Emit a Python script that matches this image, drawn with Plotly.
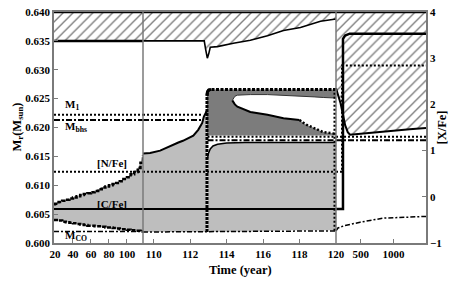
import plotly.graph_objects as go

# ---------------- axes ----------------
seg1_range = [18.9, 117.8]      # years, first (slow) part
seg2_range = [109.41, 120.0]    # years, zoomed part
seg3_range = [120.0, 1500.0]    # years, late part
mass_range = [0.600, 0.640]
xfe_range = [-1, 4]

seg1_ticks = [20, 40, 60, 80, 100]
seg2_ticks = [110, 112, 114, 116, 118, 120]
seg3_ticks = [500, 1000]
mass_ticks = [0.600, 0.605, 0.610, 0.615, 0.620, 0.625, 0.630, 0.635, 0.640]
xfe_ticks = [-1, 0, 1, 2, 3, 4]

M_TOTAL = 0.640

# ---------------- segment 1 ----------------
env1_t = [18.9, 117.8]
env1_m = [0.635, 0.635]

g1_t = [18.9, 20, 24, 28, 32, 36, 40, 44, 48, 52, 56, 60, 64, 68, 72, 76, 80, 84, 88, 92, 96,
        100, 104, 108, 112, 115, 117.8]
g1_top = [0.6067, 0.6068, 0.6071, 0.6073, 0.6075, 0.6077, 0.6079, 0.6081, 0.6083, 0.6085, 0.6086,
          0.6088, 0.6090, 0.6093, 0.6096, 0.6098, 0.6100, 0.6102, 0.6104, 0.6107, 0.6111,
          0.6114, 0.6119, 0.6123, 0.6130, 0.6139, 0.6152]
g1_bot = [0.6040, 0.6040, 0.6039, 0.6037, 0.6036, 0.6035, 0.6034, 0.6033, 0.6032, 0.6031, 0.6030,
          0.6030, 0.6029, 0.6029, 0.6028, 0.6027, 0.6027, 0.6026, 0.6025, 0.6024, 0.6024,
          0.6023, 0.6022, 0.6021, 0.6021, 0.6020, 0.6020]

# ---------------- segment 2 ----------------
env2_t = [109.41, 112.77, 112.85, 112.94, 113.02, 113.10, 113.49, 114.37, 115.30, 116.24,
          117.12, 118.05, 119.15, 120.0]
env2_m = [0.6350, 0.6350, 0.6335, 0.6320, 0.6328, 0.6339, 0.6340, 0.6346, 0.6351, 0.6359,
          0.6368, 0.6373, 0.6384, 0.6388]

g2a_t = [109.41, 109.8, 110.35, 110.7, 111.06, 111.35, 111.6, 111.9, 112.17, 112.44, 112.66,
         112.75, 112.9]
g2a_top = [0.6155, 0.6156, 0.6160, 0.6165, 0.6171, 0.6174, 0.6177, 0.6181, 0.6186, 0.6196,
           0.6208, 0.6219, 0.6228]
g2a_bot = [0.6019] * 13

g2b_t = [112.95, 113.0, 113.1, 113.25, 113.5, 114, 115, 116, 117, 118, 119, 120]
g2b_top = [0.6146, 0.6155, 0.6163, 0.6168, 0.6171, 0.6173, 0.6174, 0.6174, 0.6174, 0.6174,
           0.6174, 0.6174]
g2b_bot = [0.6019, 0.6019, 0.6019, 0.6019, 0.6019, 0.6019, 0.6020, 0.6020, 0.6022, 0.6022,
           0.6022, 0.6022]

dk_t = [112.92, 112.95, 113.02, 113.15, 114, 116, 118, 120]
dk_top = [0.6255, 0.6262, 0.6265, 0.6266, 0.6266, 0.6266, 0.6266, 0.6266]
dk_bot = [0.6186] * 8

wt_t = [114.31, 114.45, 114.59, 115.0, 115.3, 116.24, 117.12, 118.0, 118.3, 118.8, 119.3, 120]
wt_top = [0.6247, 0.6254, 0.6256, 0.6257, 0.6257, 0.6257, 0.6256, 0.6255, 0.6254, 0.6253,
          0.6252, 0.6251]
wt_bot = [0.6247, 0.6240, 0.6236, 0.6230, 0.6227, 0.6222, 0.6216, 0.6213, 0.6206, 0.6199,
          0.6192, 0.6189]

spike_t = [112.92, 112.92]
spike_m = [0.6019, 0.6255]
edge_t = [119.93, 119.93]
edge_m = [0.6021, 0.6266]

# ---------------- segment 3 ----------------
env3_t = [120, 150, 190, 227, 260, 300, 335, 500, 750, 1000, 1250, 1500]
env3_m = [0.6268, 0.6258, 0.6242, 0.6222, 0.6204, 0.6192, 0.61875, 0.6189, 0.6192, 0.6195,
          0.6197, 0.6199]

mco3_t = [120, 150, 250, 490, 840, 1500]
mco3_m = [0.6021, 0.6026, 0.6030, 0.6036, 0.6043, 0.6046]

# ---------------- characteristic masses ----------------
m1_t1, m1_v1 = [18.9, 117.8], [0.6222, 0.6222]
m1_t2a, m1_v2a = [109.41, 112.7], [0.6222, 0.6222]
m1_t2b, m1_v2b = [112.95, 120], [0.6184, 0.6184]
m1_t3, m1_v3 = [120, 1500], [0.6184, 0.6184]

mb_t1, mb_v1 = [18.9, 117.8], [0.6213, 0.6213]
mb_t2a, mb_v2a = [109.41, 112.6], [0.6213, 0.6213]
mb_t2b, mb_v2b = [112.95, 120], [0.6178, 0.6178]
mb_t3, mb_v3 = [120, 1500], [0.6178, 0.6178]

mco_t1, mco_v1 = [18.9, 117.8], [0.6020, 0.6020]
mco_t2, mco_v2 = [109.41, 120], [0.6019, 0.6021]

# ---------------- abundances (right axis) ----------------
cfe_t1, cfe_v1 = [18.9, 117.8], [-0.263, -0.263]
cfe_t2, cfe_v2 = [109.41, 120], [-0.263, -0.263]
cfe_t3 = [120, 227, 227, 260, 330, 1500]
cfe_v3 = [-0.263, -0.263, 3.42, 3.49, 3.53, 3.53]

nfe_t1, nfe_v1 = [18.9, 117.8], [0.542, 0.542]
nfe_t2, nfe_v2 = [109.41, 120], [0.542, 0.542]
nfe_t3 = [120, 212, 212, 258, 1500]
nfe_v3 = [0.542, 0.542, 2.84, 2.84, 2.84]

FONT = "Liberation Serif"
GRAY = "#bebebe"
DARK = "#7c7c7c"
FRAME = "#7a7a7a"

fig = go.Figure()
HATCH = dict(shape="/", size=7, solidity=0.2, fgcolor="#000000", bgcolor="white")


def band(t, top, bot, xa, ya="y", color=None, pattern=None):
    xs = list(t) + list(t)[::-1]
    ys = list(top) + list(bot)[::-1]
    kw = dict(x=xs, y=ys, xaxis=xa, yaxis=ya, mode="lines", fill="toself",
              line=dict(width=0), hoverinfo="skip", showlegend=False)
    if pattern:
        kw["fillpattern"] = pattern
        kw["fillcolor"] = "white"
    else:
        kw["fillcolor"] = color
    fig.add_trace(go.Scatter(**kw))


def line(t, v, xa, ya="y", color="black", width=2, dash="solid", shape="linear"):
    fig.add_trace(go.Scatter(x=t, y=v, xaxis=xa, yaxis=ya, mode="lines",
                             line=dict(color=color, width=width, dash=dash, shape=shape),
                             hoverinfo="skip", showlegend=False))


# hatched envelope
band(env1_t, [M_TOTAL] * len(env1_t), env1_m, "x", pattern=HATCH)
band(env2_t, [M_TOTAL] * len(env2_t), env2_m, "x2", pattern=HATCH)
band(env3_t, [M_TOTAL] * len(env3_t), env3_m, "x3", pattern=HATCH)

# light gray regions
band(g1_t, g1_top, g1_bot, "x", color=GRAY)
band(g2a_t, g2a_top, g2a_bot, "x2", color=GRAY)
band(g2b_t, g2b_top, g2b_bot, "x2", color=GRAY)
# dark region and white tongue
band(dk_t, dk_top, dk_bot, "x2", color=DARK)
band(wt_t, wt_top, wt_bot, "x2", color="white")

# outlines
line(g1_t, g1_top, "x", width=2.5, dash="4px,1.5px", shape="hv")
line(g1_t, g1_bot, "x", width=2.5, dash="4px,1.5px", shape="hv")
line(g2a_t, g2a_top, "x2", width=2)
line(g2b_t, g2b_top, "x2", width=1.5)
line(dk_t, dk_top, "x2", width=3, dash="3px,1.5px")
line(dk_t[:4], dk_top[:4], "x2", width=3)
line(wt_t[:8], wt_bot[:8], "x2", width=2)
line(wt_t[7:], wt_bot[7:], "x2", width=2.5, dash="2px,2px")
line(wt_t, wt_top, "x2", width=1, color="#333333")
line(spike_t, spike_m, "x2", width=3, dash="3px,1px")
line(edge_t, edge_m, "x2", width=2.5, dash="2px,2px")

# envelope boundaries
line(env1_t, env1_m, "x", width=2.5)
line(env2_t, env2_m, "x2", width=1.6)
line(env3_t, env3_m, "x3", width=2)
line(seg1_range, [M_TOTAL, M_TOTAL], "x", width=2.5)
line(seg2_range, [M_TOTAL, M_TOTAL], "x2", width=2.5)
line(seg3_range, [M_TOTAL, M_TOTAL], "x3", width=2.5)

# characteristic masses
for (t, v, xa) in [(m1_t1, m1_v1, "x"), (m1_t2a, m1_v2a, "x2"), (m1_t2b, m1_v2b, "x2"),
                   (m1_t3, m1_v3, "x3")]:
    line(t, v, xa, width=2, dash="2px,2px")
for (t, v, xa) in [(mb_t1, mb_v1, "x"), (mb_t2a, mb_v2a, "x2"), (mb_t2b, mb_v2b, "x2"),
                   (mb_t3, mb_v3, "x3")]:
    line(t, v, xa, width=2, dash="6px,2px,2px,2px")
line(mco_t1, mco_v1, "x", width=1.5, dash="5px,2px,2px,2px")
line(mco_t2, mco_v2, "x2", width=1.5, dash="5px,2px,2px,2px")
line(mco3_t, mco3_m, "x3", width=1.5, dash="5px,2px,2px,2px")

# abundances
line(nfe_t1, nfe_v1, "x", "y2", width=2, dash="2px,2px")
line(nfe_t2, nfe_v2, "x2", "y2", width=2, dash="2px,2px")
line(nfe_t3, nfe_v3, "x3", "y2", width=2, dash="2px,2px")
line(cfe_t1, cfe_v1, "x", "y2", width=2)
line(cfe_t2, cfe_v2, "x2", "y2", width=2)
line(cfe_t3, cfe_v3, "x3", "y2", width=2.5)

D1 = (143 - 54) / 372
D2 = (336 - 54) / 372

xcommon = dict(showline=True, linecolor=FRAME, linewidth=1.5, mirror=True, ticks="inside",
               ticklen=4, tickcolor=FRAME, showgrid=False, zeroline=False,
               tickfont=dict(size=11, color="black"))
fig.update_layout(
    width=458, height=281,
    margin=dict(l=54, r=32, t=6, b=38),
    paper_bgcolor="white", plot_bgcolor="white",
    font=dict(family=FONT, size=11, color="black", weight="bold"),
    xaxis=dict(domain=[0, D1], range=seg1_range, tickvals=seg1_ticks, anchor="y", **xcommon),
    xaxis2=dict(domain=[D1, D2], range=seg2_range, tickvals=seg2_ticks, anchor="y", **xcommon),
    xaxis3=dict(domain=[D2, 1], range=seg3_range, tickvals=seg3_ticks, anchor="y", **xcommon),
    yaxis=dict(range=mass_range, tickvals=mass_ticks, tickformat=".3f", anchor="x",
               showline=True, linecolor=FRAME, linewidth=1.5, ticks="inside", ticklen=4,
               tickcolor=FRAME, showgrid=False, zeroline=False,
               tickfont=dict(size=11, color="black")),
    yaxis2=dict(range=xfe_range, tickvals=xfe_ticks, overlaying="y", side="right",
                anchor="x3", showline=True, linecolor=FRAME, linewidth=1.5, ticks="inside",
                ticklen=4, tickcolor=FRAME, showgrid=False, zeroline=False,
                tickfont=dict(size=11, color="black")),
    showlegend=False,
)

# segment separators
for ref in ["x2 domain", "x3 domain"]:
    fig.add_shape(type="line", xref=ref, yref="paper", x0=0, x1=0, y0=0, y1=1,
                  line=dict(color=FRAME, width=1.5), layer="above")

labels = [
    ("M<sub>1</sub>", 28.9, 0.6239),
    ("M<sub>bhs</sub>", 28.9, 0.6201),
    ("[N/Fe]", 64.5, 0.61386),
    ("[C/Fe]", 64.5, 0.60678),
    ("M<sub>CO</sub>", 28.9, 0.6012),
]
for txt, xv, yv in labels:
    fig.add_annotation(x=xv, y=yv, xref="x", yref="y", text=txt, showarrow=False,
                       xanchor="left", yanchor="middle",
                       font=dict(family=FONT, size=11, color="black", weight="bold"))

fig.add_annotation(x=0.5, y=0, xref="paper", yref="paper", yshift=-27, text="Time (year)",
                   showarrow=False, yanchor="middle",
                   font=dict(family=FONT, size=12.5, color="black", weight="bold"))
fig.add_annotation(x=0, y=0.5, xref="paper", yref="paper", xshift=-47,
                   text="M<sub>r</sub>(M<sub>sun</sub>)", textangle=-90, showarrow=False,
                   font=dict(family=FONT, size=12.5, color="black", weight="bold"))
fig.add_annotation(x=1, y=0.5, xref="paper", yref="paper", xshift=24, text="[X/Fe]",
                   textangle=-90, showarrow=False,
                   font=dict(family=FONT, size=12.5, color="black", weight="bold"))

fig.write_html("out.html", config={"displayModeBar": False},
               post_script="document.body.style.margin='0px';document.body.style.padding='0px';")
